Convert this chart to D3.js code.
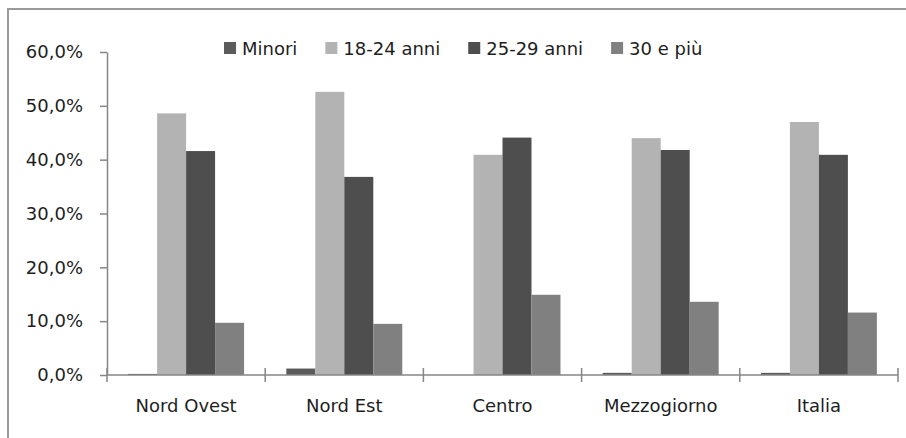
<!DOCTYPE html>
<html>
<head>
<meta charset="utf-8">
<script src="https://cdn.jsdelivr.net/npm/d3@7"></script>
<style>
  html, body { margin: 0; padding: 0; background: #fff; }
  svg { display: block; }
  text { font-family: "DejaVu Sans", sans-serif; font-size: 18px; fill: #1e1e1e; }
</style>
</head>
<body>
<svg id="chart" width="906" height="438"></svg>
<script>
const categories = ["Nord Ovest", "Nord Est", "Centro", "Mezzogiorno", "Italia"];
const seriesNames = ["Minori", "18-24 anni", "25-29 anni", "30 e più"];
const minori   = [0.2, 1.2, 0.0, 0.4, 0.4];
const anni1824 = [48.6, 52.6, 40.9, 44.0, 47.0];
const anni2529 = [41.6, 36.8, 44.1, 41.8, 40.9];
const piu30    = [9.7, 9.5, 14.9, 13.6, 11.6];
const yTicks   = [0, 10, 20, 30, 40, 50, 60];
const colors   = ["#5b5b5b", "#b3b3b3", "#4e4e4e", "#808080"];

(function () {
const seriesValues = [minori, anni1824, anni2529, piu30];
const svg = d3.select("#chart");

// frame (clipped on right/bottom)
svg.append("path")
  .attr("d", "M8,438 L8,9 L906,9")
  .attr("fill", "none")
  .attr("stroke", "#9a9a9a")
  .attr("stroke-width", 2);

const pLeft = 107, pRight = 898, pTop = 52, pBottom = 375;
const pIn = 0.267;
const x0 = d3.scaleBand().domain(categories).range([pLeft, pRight])
  .paddingInner(pIn).paddingOuter(pIn / 2);
const x1 = d3.scaleBand().domain(seriesNames).range([0, x0.bandwidth()]).padding(0);
const y = d3.scaleLinear().domain([0, 60]).range([pBottom, pTop]);

const fmt = v => d3.format(".1f")(v).replace(".", ",") + "%";

// bars
const groups = svg.append("g").selectAll("g")
  .data(categories)
  .join("g")
  .attr("transform", d => `translate(${x0(d)},0)`);

groups.selectAll("rect")
  .data((d, i) => seriesNames.map((s, j) => ({ s, j, v: seriesValues[j][i] })))
  .join("rect")
  .attr("x", d => x1(d.s))
  .attr("width", x1.bandwidth())
  .attr("y", d => y(d.v))
  .attr("height", d => y(0) - y(d.v))
  .attr("fill", d => colors[d.j]);

// y axis
const yAxis = d3.axisLeft(y).tickValues(yTicks).tickFormat(fmt)
  .tickSize(7).tickSizeOuter(0).tickPadding(17);
const yg = svg.append("g").attr("transform", `translate(${pLeft},0)`).call(yAxis);
yg.selectAll("path.domain").attr("stroke", "#868686").attr("stroke-width", 1.5);
yg.selectAll(".tick line").attr("stroke", "#868686").attr("stroke-width", 1.5);
yg.selectAll(".tick text").attr("font-size", 18).attr("font-family", "DejaVu Sans").attr("fill", "#1e1e1e");

// x axis
const xg = svg.append("g");
xg.append("line")
  .attr("x1", pLeft).attr("x2", pRight)
  .attr("y1", y(0)).attr("y2", y(0))
  .attr("stroke", "#868686").attr("stroke-width", 1.5);
const step = x0.step();
const boundaries = d3.range(categories.length + 1).map(i => pLeft + i * step);
xg.selectAll("line.tk")
  .data(boundaries)
  .join("line")
  .attr("class", "tk")
  .attr("x1", d => d).attr("x2", d => d)
  .attr("y1", y(0) - 7).attr("y2", y(0) + 7)
  .attr("stroke", "#868686").attr("stroke-width", 1.5);
xg.selectAll("text")
  .data(categories)
  .join("text")
  .attr("x", d => x0(d) + x0.bandwidth() / 2)
  .attr("y", 412)
  .attr("text-anchor", "middle")
  .text(d => d);

// legend
const lg = svg.append("g");
let lx = 224;
seriesNames.forEach((s, j) => {
  lg.append("rect")
    .attr("x", lx).attr("y", 42)
    .attr("width", 12).attr("height", 12)
    .attr("fill", colors[j]);
  const t = lg.append("text")
    .attr("x", lx + 18).attr("y", 55)
    .text(s);
  lx += 18 + t.node().getComputedTextLength() + 28;
});
})();
</script>
</body>
</html>
